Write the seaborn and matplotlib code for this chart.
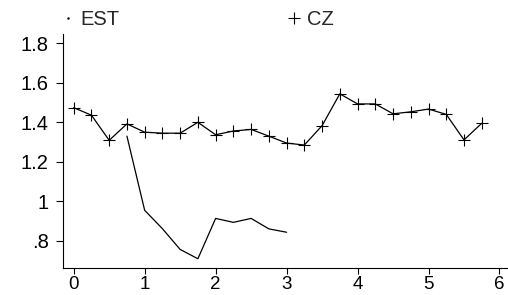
import numpy as np
import pandas as pd
import matplotlib
matplotlib.use("Agg")
import matplotlib.pyplot as plt
from matplotlib.lines import Line2D
import seaborn as sns

# ── data ──
cz_x = [0, 0.25, 0.5, 0.75, 1, 1.25, 1.5, 1.75, 2, 2.25, 2.5, 2.75,
        3, 3.25, 3.5, 3.75, 4, 4.25, 4.5, 4.75, 5, 5.25, 5.5, 5.75]
cz_y = [1.474, 1.436, 1.309, 1.392, 1.350, 1.345, 1.345, 1.400, 1.337, 1.356, 1.364, 1.330,
        1.295, 1.285, 1.383, 1.544, 1.493, 1.493, 1.443, 1.453, 1.467, 1.440, 1.311, 1.395]

est_x = [0.75, 1, 1.25, 1.5, 1.75, 2, 2.25, 2.5, 2.75, 3]
est_y = [1.33, 0.955, 0.862, 0.757, 0.71, 0.914, 0.894, 0.914, 0.861, 0.844]

x_ticks = [0, 1, 2, 3, 4, 5, 6]
y_ticks = [0.8, 1.0, 1.2, 1.4, 1.6, 1.8]
y_tick_labels = [".8", "1", "1.2", "1.4", "1.6", "1.8"]

cz = pd.DataFrame({"x": cz_x, "y": cz_y})
est = pd.DataFrame({"x": est_x, "y": est_y})

sns.set_style("ticks")
plt.rcParams["font.family"] = ["Liberation Sans", "DejaVu Sans"]
fs = 14.5
plt.rcParams["font.size"] = fs

fig = plt.figure(figsize=(5.08, 2.95), dpi=100)
ax = fig.add_axes([0.124, 0.091, 0.876, 0.794])

sns.lineplot(data=est, x="x", y="y", ax=ax, color="black", linewidth=0.9)
sns.lineplot(data=cz, x="x", y="y", ax=ax, color="black", linewidth=0.9,
             marker="+", markersize=9, markeredgewidth=0.8, markeredgecolor="black")

ax.set_xlim(-0.151, 6.12)
ax.set_ylim(0.6624, 1.847)
ax.set_xticks(x_ticks)
ax.set_xticklabels([str(t) for t in x_ticks])
ax.set_yticks(y_ticks)
ax.set_yticklabels(y_tick_labels)
ax.set_xlabel("")
ax.set_ylabel("")

for s in ["top", "right"]:
    ax.spines[s].set_visible(False)
for s in ["left", "bottom"]:
    ax.spines[s].set_linewidth(0.8)
    ax.spines[s].set_color("black")

ax.tick_params(axis="both", colors="black", width=0.8)
ax.tick_params(axis="y", length=4.8, pad=5.5, labelsize=fs)
ax.tick_params(axis="x", length=4.4, pad=1.5, labelsize=13.5)

handles = [
    Line2D([], [], color="black", marker=".", markersize=1.5, linestyle="none"),
    Line2D([], [], color="black", marker="+", markersize=9, markeredgewidth=0.8, linestyle="none"),
]
fig.legend(handles, ["EST", "CZ"], ncol=2, frameon=False,
           loc="center left", bbox_to_anchor=(0.121, 0.935),
           handlelength=0.6, handletextpad=0.35, columnspacing=8.35,
           borderaxespad=0, borderpad=0, fontsize=fs)

fig.savefig("out.png", dpi=100)
